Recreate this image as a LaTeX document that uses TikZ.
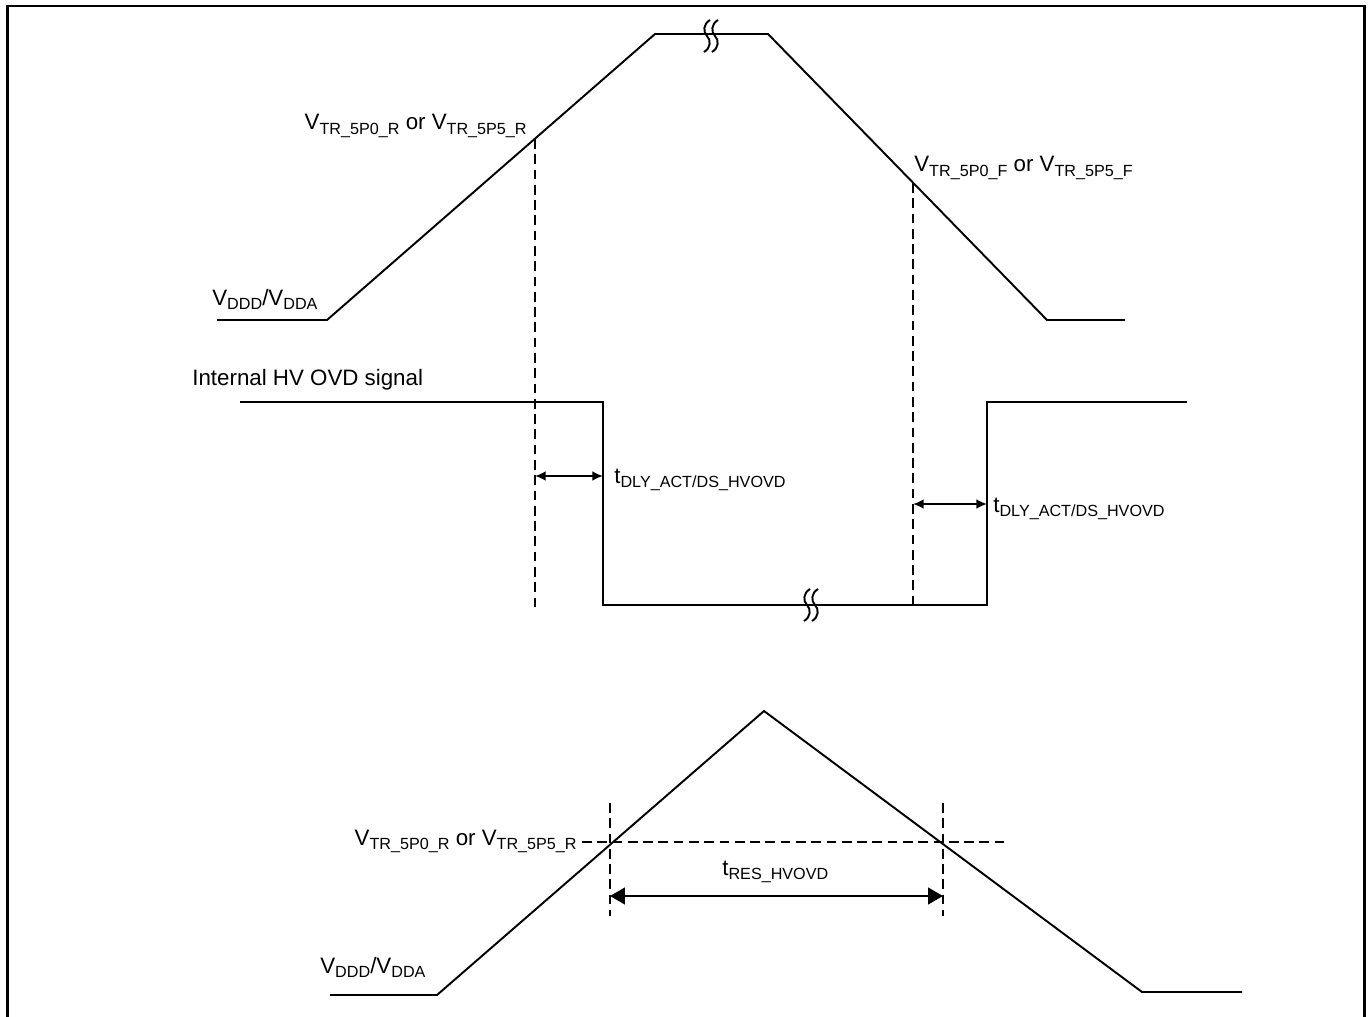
\documentclass[tikz,border=0pt]{standalone}
\usepackage{fontspec}
\setmainfont{Liberation Sans}
\usetikzlibrary{arrows.meta}
\newcommand{\sbx}[1]{\raisebox{-2.5pt}{\fontsize{9.2}{11}\selectfont #1}}

\begin{document}
\begin{tikzpicture}[x=0.02cm, y=-0.02cm,
  font=\fontsize{12.7}{15}\selectfont,
  wave/.style={line width=1.1pt},
  guide/.style={line width=1.5pt, dash pattern=on 5.5pt off 3.2pt},
  lbl/.style={inner sep=0pt, anchor=base west},
  dly/.style={{Latex[length=6pt,width=5.5pt]}-{Latex[length=6pt,width=5.5pt]}, line width=1.1pt},
  res/.style={{Triangle[length=8.5pt,width=9.5pt]}-{Triangle[length=8.5pt,width=9.5pt]}, line width=1.2pt},
  brkmark/.pic={
    \foreach \dx in {-4,4}
      \draw[line width=1.1pt] (\dx+3,-16) .. controls (\dx-4,-12) and (\dx-4,-4) .. (\dx,0)
        .. controls (\dx+4,4) and (\dx+4,12) .. (\dx-3,16);
  }]

  \useasboundingbox (0,0) rectangle (1372,1017);
  \draw[line width=1.5pt] (7.5,1017) -- (7.5,6) -- (1364.5,6) -- (1364.5,1017);

  % supply ramp, top
  \coordinate (a0) at (217,320);
  \coordinate (a1) at (327,320);
  \coordinate (a2) at (655,34);
  \coordinate (a3) at (768,34);
  \coordinate (a4) at (1047,320);
  \coordinate (a5) at (1125,320);
  \draw[wave] (a0) -- (a1) -- (a2) -- (a3) -- (a4) -- (a5);
  \pic at (711,36) {brkmark};

  \node[lbl, anchor=base east] (vtrr) at (527,130) {V\sbx{TR\_5P0\_R} or V\sbx{TR\_5P5\_R}};
  \node[lbl] (vtrf) at (914,172) {V\sbx{TR\_5P0\_F} or V\sbx{TR\_5P5\_F}};
  \node[lbl] (vdd1) at (212,305) {V\sbx{DDD}/V\sbx{DDA}};

  % internal signal
  \node[lbl] (ovd) at (192,385) {Internal HV OVD signal};
  \coordinate (s0) at (240,402);
  \coordinate (s1) at (603,402);
  \coordinate (s2) at (603,605);
  \coordinate (s3) at (987,605);
  \coordinate (s4) at (987,402);
  \coordinate (s5) at (1187,402);
  \draw[wave] (s0) -- (s1) -- (s2) -- (s3) -- (s4) -- (s5);
  \pic at (811,605) {brkmark};

  \coordinate (cr) at (535,139);
  \coordinate (crb) at (535,612);
  \coordinate (cf) at (913,183);
  \coordinate (cfb) at (913,605);
  \draw[guide] (cr) -- (crb);
  \draw[guide] (cf) -- (cfb);

  \coordinate (d1a) at (535,476);
  \coordinate (d1b) at (603,476);
  \coordinate (d2a) at (913,504);
  \coordinate (d2b) at (987,504);
  \draw[dly] (d1a) -- (d1b);
  \draw[dly] (d2a) -- (d2b);
  \node[lbl] (tdly1) at (614,483) {t\sbx{DLY\_ACT/DS\_HVOVD}};
  \node[lbl] (tdly2) at (993,512) {t\sbx{DLY\_ACT/DS\_HVOVD}};

  % supply pulse, bottom
  \coordinate (b0) at (330,995);
  \coordinate (b1) at (437,995);
  \coordinate (b2) at (764,711);
  \coordinate (b3) at (1142,992);
  \coordinate (b4) at (1242,992);
  \draw[wave] (b0) -- (b1) -- (b2) -- (b3) -- (b4);

  \node[lbl, anchor=base east] (vtrb) at (577,845) {V\sbx{TR\_5P0\_R} or V\sbx{TR\_5P5\_R}};
  \node[lbl] (vdd2) at (320,973) {V\sbx{DDD}/V\sbx{DDA}};

  \coordinate (h0) at (582,842);
  \coordinate (h1) at (1005,842);
  \coordinate (v1t) at (610,803);
  \coordinate (v1b) at (610,916);
  \coordinate (v2t) at (943,803);
  \coordinate (v2b) at (943,916);
  \draw[guide] (h0) -- (h1);
  \draw[guide] (v1t) -- (v1b);
  \draw[guide] (v2t) -- (v2b);

  \coordinate (ra) at (610,896);
  \coordinate (rb) at (943,896);
  \draw[res] (ra) -- (rb);
  \node[lbl] (tres) at (722,875) {t\sbx{RES\_HVOVD}};
\end{tikzpicture}
\end{document}
